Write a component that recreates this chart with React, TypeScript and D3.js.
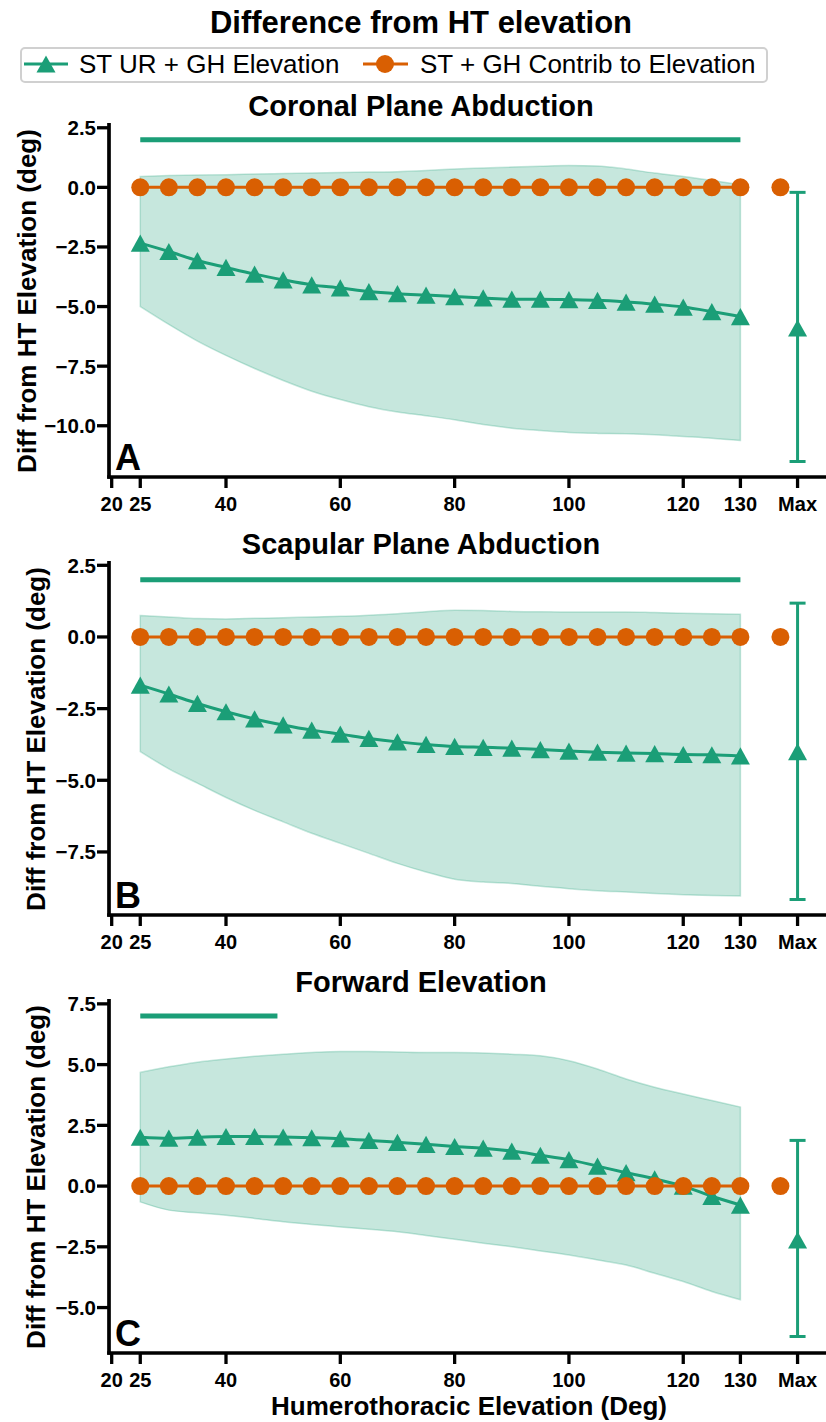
import React, { useEffect, useRef } from "react";
import * as d3 from "d3";

// humerothoracic elevation samples (deg)
const elevation = [25, 30, 35, 40, 45, 50, 55, 60, 65, 70, 75, 80, 85, 90, 95, 100, 105, 110, 115, 120, 125, 130];
const contribMean = [0, 0, 0, 0, 0, 0, 0, 0, 0, 0, 0, 0, 0, 0, 0, 0, 0, 0, 0, 0, 0, 0];

const coronalMean = [-2.34, -2.69, -3.07, -3.36, -3.64, -3.88, -4.09, -4.22, -4.37, -4.46, -4.52, -4.58, -4.64, -4.69, -4.69, -4.71, -4.74, -4.81, -4.9, -5.02, -5.21, -5.42];
const coronalUpper = [0.46, 0.5, 0.52, 0.53, 0.56, 0.58, 0.6, 0.62, 0.64, 0.66, 0.71, 0.77, 0.81, 0.85, 0.89, 0.92, 0.9, 0.77, 0.6, 0.46, 0.29, 0.11];
const coronalLower = [-5.0, -5.75, -6.45, -7.05, -7.6, -8.1, -8.55, -8.9, -9.2, -9.42, -9.58, -9.75, -9.95, -10.1, -10.2, -10.28, -10.32, -10.34, -10.38, -10.45, -10.52, -10.62];

const scapularMean = [-1.68, -1.99, -2.32, -2.61, -2.86, -3.07, -3.25, -3.39, -3.54, -3.66, -3.75, -3.82, -3.85, -3.88, -3.93, -3.98, -4.02, -4.05, -4.07, -4.1, -4.11, -4.15];
const scapularUpper = [0.75, 0.7, 0.64, 0.63, 0.65, 0.67, 0.7, 0.72, 0.76, 0.81, 0.88, 0.93, 0.92, 0.89, 0.88, 0.87, 0.87, 0.87, 0.85, 0.83, 0.81, 0.79];
const scapularLower = [-4.0, -4.6, -5.1, -5.6, -6.05, -6.45, -6.85, -7.2, -7.55, -7.9, -8.2, -8.45, -8.55, -8.6, -8.7, -8.78, -8.85, -8.9, -8.95, -8.99, -9.02, -9.04];

const forwardMean = [2.01, 1.97, 2.01, 2.04, 2.04, 2.02, 1.99, 1.95, 1.88, 1.8, 1.72, 1.63, 1.56, 1.44, 1.27, 1.09, 0.82, 0.55, 0.3, 0.0, -0.42, -0.78];
const forwardUpper = [4.68, 4.91, 5.1, 5.23, 5.34, 5.43, 5.5, 5.54, 5.54, 5.52, 5.5, 5.5, 5.48, 5.43, 5.36, 5.16, 4.82, 4.41, 4.07, 3.79, 3.52, 3.25];
const forwardLower = [-0.65, -0.99, -1.1, -1.2, -1.33, -1.47, -1.58, -1.68, -1.78, -1.88, -2.03, -2.19, -2.35, -2.5, -2.67, -2.84, -3.04, -3.25, -3.59, -3.93, -4.34, -4.68];

// value at maximum elevation: mean and error bar limits
const maxMean = [-5.9, -4.0, -2.22];
const maxLow = [-11.5, -9.16, -6.19];
const maxHigh = [-0.21, 1.18, 1.88];
const contribMax = [0, 0, 0];

// significance bars
const sigStart = [25, 25, 25];
const sigEnd = [130, 130, 49];
const sigLevel = [2, 2, 7];

const panelTitles = ["Coronal Plane Abduction", "Scapular Plane Abduction", "Forward Elevation"];
const panelLetters = ["A", "B", "C"];
const yTicks = [
  [-10, -7.5, -5, -2.5, 0, 2.5],
  [-7.5, -5, -2.5, 0, 2.5],
  [-5, -2.5, 0, 2.5, 5, 7.5],
];
const yDomains = [
  [-12.15, 2.7],
  [-9.7, 2.65],
  [-6.87, 7.7],
];
const xTicks = [20, 25, 40, 60, 80, 100, 120, 130, 140];
const xTickLabels = ["20", "25", "40", "60", "80", "100", "120", "130", "Max"];
const maxX = 140;
const contribMaxX = 137;

const legendLabels = ["ST UR + GH Elevation", "ST + GH Contrib to Elevation"];

const GREEN = "#1b9e77";
const ORANGE = "#d95f02";
const FONT = "'Liberation Sans', Arial, Helvetica, sans-serif";

const triangle = (cx: number, cy: number) =>
  `M${cx},${cy - 8.6}L${cx + 9.5},${cy + 8.6}L${cx - 9.5},${cy + 8.6}Z`;

const App = () => {
  const ref = useRef<SVGSVGElement>(null);

  useEffect(() => {
    const svg = d3.select(ref.current);
    svg.selectAll("*").remove();

    const panels = [
      { mean: coronalMean, upper: coronalUpper, lower: coronalLower },
      { mean: scapularMean, upper: scapularUpper, lower: scapularLower },
      { mean: forwardMean, upper: forwardUpper, lower: forwardLower },
    ];

    const x = d3.scaleLinear().domain([19.53, 145.5]).range([109, 829]);

    // title
    svg.append("text")
      .attr("x", 421).attr("y", 33)
      .attr("text-anchor", "middle")
      .style("font", `bold 31px ${FONT}`)
      .text("Difference from HT elevation");

    // legend
    const lg = svg.append("g");
    lg.append("rect")
      .attr("x", 21).attr("y", 48).attr("width", 746).attr("height", 34)
      .attr("rx", 4).attr("fill", "#fff").attr("stroke", "#d0d0d0").attr("stroke-width", 2);
    lg.append("line").attr("x1", 24).attr("x2", 68).attr("y1", 64).attr("y2", 64)
      .attr("stroke", GREEN).attr("stroke-width", 3);
    lg.append("path").attr("d", triangle(46, 64)).attr("fill", GREEN);
    lg.append("text").attr("x", 79).attr("y", 73)
      .style("font", `26px ${FONT}`).text(legendLabels[0]);
    lg.append("line").attr("x1", 363).attr("x2", 408).attr("y1", 64).attr("y2", 64)
      .attr("stroke", ORANGE).attr("stroke-width", 3);
    lg.append("circle").attr("cx", 385).attr("cy", 64).attr("r", 9).attr("fill", ORANGE);
    lg.append("text").attr("x", 420).attr("y", 73)
      .style("font", `26px ${FONT}`).text(legendLabels[1]);

    panels.forEach((p, i) => {
      const off = i * 438;
      const top = 123 + off;
      const bottom = 477 + off;
      const y = d3.scaleLinear().domain(yDomains[i]).range([bottom, top]);
      const g = svg.append("g");

      g.append("text")
        .attr("x", 421).attr("y", 116 + off)
        .attr("text-anchor", "middle")
        .style("font", `bold 29px ${FONT}`)
        .text(panelTitles[i]);

      // band
      const band = d3.area<number>()
        .x((_, j) => x(elevation[j]))
        .y0((_, j) => y(p.lower[j]))
        .y1((_, j) => y(p.upper[j]))
        .curve(d3.curveMonotoneX);
      g.append("path")
        .attr("d", band(elevation))
        .attr("fill", GREEN).attr("fill-opacity", 0.25)
        .attr("stroke", GREEN).attr("stroke-opacity", 0.25).attr("stroke-width", 1.5);

      // significance bar
      g.append("line")
        .attr("x1", x(sigStart[i])).attr("x2", x(sigEnd[i]))
        .attr("y1", y(sigLevel[i])).attr("y2", y(sigLevel[i]))
        .attr("stroke", GREEN).attr("stroke-width", 5);

      // green mean line
      const line = d3.line<number>()
        .x((_, j) => x(elevation[j]))
        .y((d) => y(d))
        .curve(d3.curveMonotoneX);
      g.append("path").attr("d", line(p.mean))
        .attr("fill", "none").attr("stroke", GREEN).attr("stroke-width", 3);
      g.selectAll(".tri").data(p.mean).enter().append("path")
        .attr("d", (d, j) => triangle(x(elevation[j]), y(d)))
        .attr("fill", GREEN);

      // max error bar
      g.append("line")
        .attr("x1", x(maxX)).attr("x2", x(maxX))
        .attr("y1", y(maxLow[i])).attr("y2", y(maxHigh[i]))
        .attr("stroke", GREEN).attr("stroke-width", 3);
      [maxLow[i], maxHigh[i]].forEach((v) => {
        g.append("line")
          .attr("x1", x(maxX) - 8).attr("x2", x(maxX) + 8)
          .attr("y1", y(v)).attr("y2", y(v))
          .attr("stroke", GREEN).attr("stroke-width", 3);
      });
      g.append("path").attr("d", triangle(x(maxX), y(maxMean[i]))).attr("fill", GREEN);

      // orange contribution line
      g.append("path").attr("d", line(contribMean))
        .attr("fill", "none").attr("stroke", ORANGE).attr("stroke-width", 3);
      g.selectAll(".dot").data(contribMean).enter().append("circle")
        .attr("cx", (_, j) => x(elevation[j])).attr("cy", (d) => y(d))
        .attr("r", 9).attr("fill", ORANGE);
      g.append("circle").attr("cx", x(contribMaxX)).attr("cy", y(contribMax[i]))
        .attr("r", 9).attr("fill", ORANGE);

      // axes
      g.append("line").attr("x1", 109).attr("x2", 109).attr("y1", top).attr("y2", bottom + 1.8)
        .attr("stroke", "#000").attr("stroke-width", 3.7);
      g.append("line").attr("x1", 107.2).attr("x2", 829).attr("y1", bottom).attr("y2", bottom)
        .attr("stroke", "#000").attr("stroke-width", 3.7);

      yTicks[i].forEach((t) => {
        g.append("line").attr("x1", 97).attr("x2", 109).attr("y1", y(t)).attr("y2", y(t))
          .attr("stroke", "#000").attr("stroke-width", 3.3);
        g.append("text").attr("x", 96).attr("y", y(t)).attr("dy", "0.36em")
          .attr("text-anchor", "end")
          .style("font", `bold 20.5px ${FONT}`)
          .text(d3.format(".1f")(t).replace("-", "\u2212"));
      });
      xTicks.forEach((t, k) => {
        g.append("line").attr("x1", x(t)).attr("x2", x(t)).attr("y1", bottom).attr("y2", bottom + 11)
          .attr("stroke", "#000").attr("stroke-width", 3.3);
        g.append("text").attr("x", x(t)).attr("y", 511 + off)
          .attr("text-anchor", "middle")
          .style("font", `bold 20px ${FONT}`)
          .text(xTickLabels[k]);
      });

      g.append("text")
        .attr("transform", `translate(${i === 0 ? 36 : 45},${301 + off}) rotate(-90)`)
        .attr("text-anchor", "middle")
        .style("font", `bold 26px ${FONT}`)
        .text("Diff from HT Elevation (deg)");

      g.append("text").attr("x", 115).attr("y", 470 + off)
        .style("font", `bold 36px ${FONT}`)
        .text(panelLetters[i]);
    });

    svg.append("text")
      .attr("x", 469).attr("y", 1415)
      .attr("text-anchor", "middle")
      .style("font", `bold 26px ${FONT}`)
      .text("Humerothoracic Elevation (Deg)");
  }, []);

  return (
    <svg
      ref={ref}
      width={826}
      height={1422}
      style={{ position: "absolute", left: 0, top: 0, background: "#fff" }}
    />
  );
};

export default App;
